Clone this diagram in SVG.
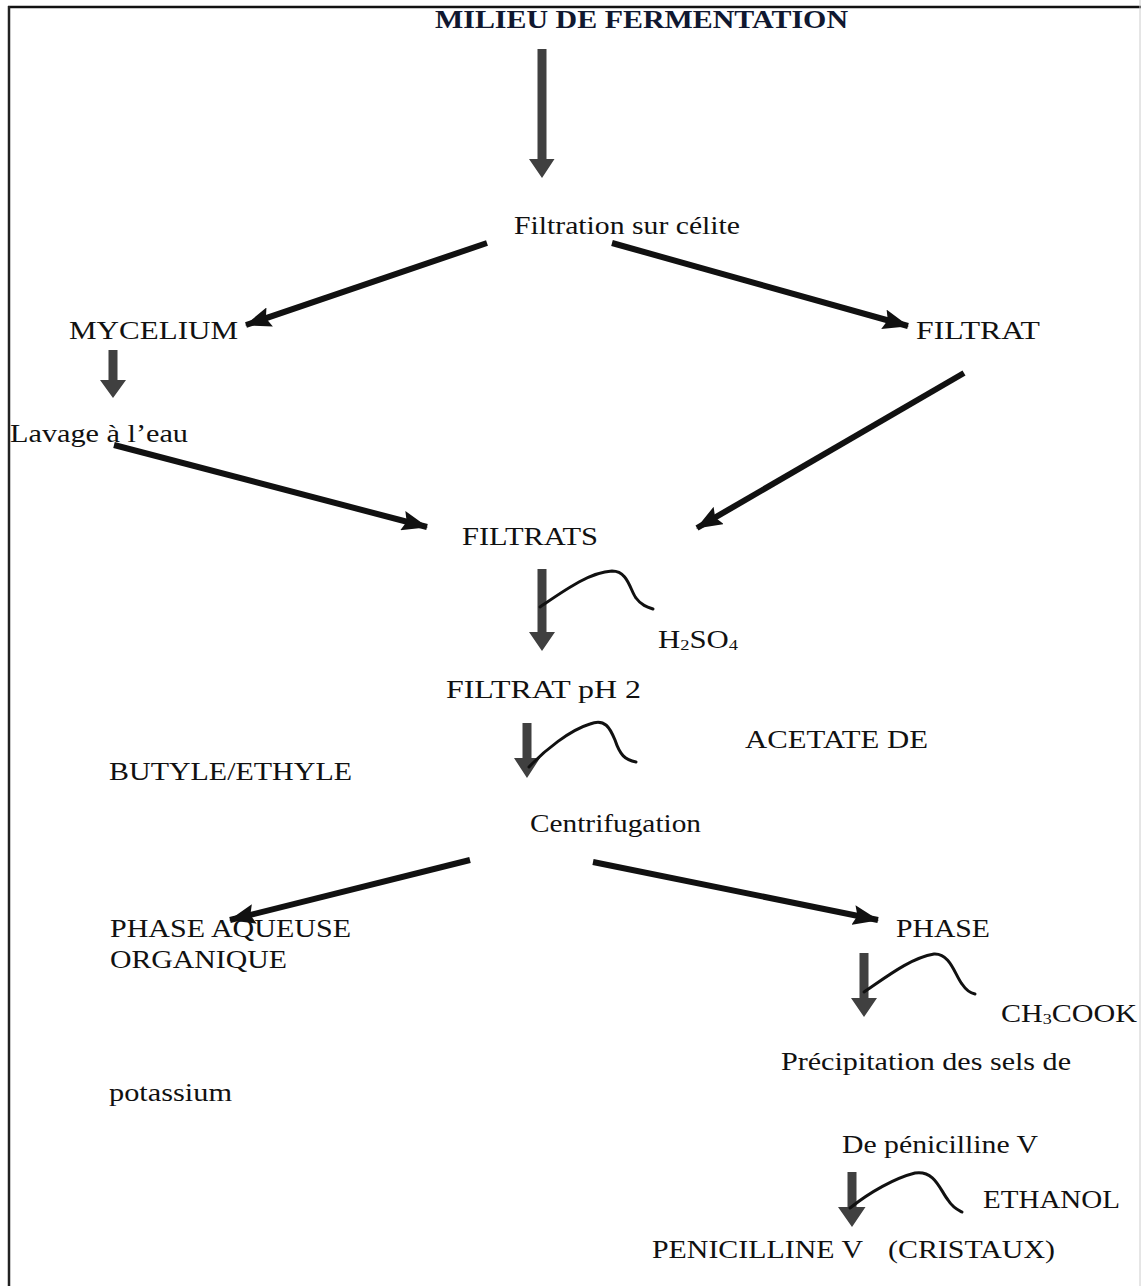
<svg xmlns="http://www.w3.org/2000/svg" width="1141" height="1286" viewBox="0 0 1141 1286">
<style>
text{font-family:"Liberation Serif","Times New Roman",serif;font-size:25px;fill:#111;}
.title{font-weight:bold;fill:#101830;}
.line{stroke:#111;stroke-width:6;fill:none;marker-end:url(#head);}
.block{fill:#404040;}
.curve{stroke:#111;stroke-width:3;fill:none;stroke-linecap:round;stroke-linejoin:round;}
.sub{font-size:15px;}
</style>
<defs>
<marker id="head" markerUnits="userSpaceOnUse" viewBox="0 0 26 20" refX="25" refY="10" markerWidth="26" markerHeight="20" orient="auto">
<path d="M0,0 L26,10 L0,20 L4,10 z" fill="#111"/>
</marker>
</defs>
<rect x="0" y="0" width="1141" height="1286" fill="#fff"/>
<g id="frame">
<line x1="8" y1="7" x2="1141" y2="7" stroke="#111" stroke-width="2.5"/>
<line x1="9" y1="6" x2="9" y2="1286" stroke="#222" stroke-width="2.5"/>
<line x1="1140" y1="0" x2="1140" y2="1286" stroke="#ccc" stroke-width="1"/>
</g>
<g id="connectors">
<line class="line" x1="487" y1="243" x2="246" y2="325"/>
<line class="line" x1="612" y1="243" x2="908" y2="326"/>
<line class="line" x1="114" y1="445" x2="427" y2="527"/>
<line class="line" x1="964" y1="373" x2="697" y2="528"/>
<line class="line" x1="470" y1="860" x2="230" y2="920"/>
<line class="line" x1="593" y1="862" x2="878" y2="920"/>
<path class="block" d="M537.5,49 h9 V159 h8 L542,178 L529,159 h8.5 z"/>
<path class="block" d="M108.5,350 h9 V380 h8.5 L113,398 L100,380 h8.5 z"/>
<path class="block" d="M537.5,569 h9 V632 h8.5 L542,651 L529,632 h8.5 z"/>
<path class="block" d="M522.5,723 h9 V758 h8.5 L527,778 L514,758 h8.5 z"/>
<path class="block" d="M859.5,953 h9 V998 h8.5 L864,1017 L851,998 h8.5 z"/>
<path class="block" d="M847.5,1172 h9 V1207 h9 L852,1227 L838,1207 h9.5 z"/>
<path class="curve" d="M540,607 C565,590 590,572 612,571 C628,571 630,590 636,598 C641,605 647,607 653,609"/>
<path class="curve" d="M529,767 C545,750 570,730 590,724 C605,718 610,728 615,740 C620,755 625,760 636,762"/>
<path class="curve" d="M864,992 C885,978 910,958 934,954 C950,953 955,975 962,984 C966,990 970,993 975,994"/>
<path class="curve" d="M850,1208 C870,1192 895,1178 915,1173 C935,1170 940,1190 948,1200 C953,1208 958,1210 962,1212"/>
</g>
<g id="n-milieu"><text class="title" x="435" y="28" textLength="413" lengthAdjust="spacingAndGlyphs">MILIEU DE FERMENTATION</text></g>
<g id="n-filtration"><text x="514" y="234" textLength="226" lengthAdjust="spacingAndGlyphs">Filtration sur célite</text></g>
<g id="n-mycelium"><text x="69" y="339" textLength="169" lengthAdjust="spacingAndGlyphs">MYCELIUM</text></g>
<g id="n-filtrat"><text x="916" y="339" textLength="124" lengthAdjust="spacingAndGlyphs">FILTRAT</text></g>
<g id="n-lavage"><text x="10" y="442" textLength="178" lengthAdjust="spacingAndGlyphs">Lavage à l’eau</text></g>
<g id="n-filtrats"><text x="462" y="545" textLength="136" lengthAdjust="spacingAndGlyphs">FILTRATS</text></g>
<g id="n-h2so4"><text x="658" y="648" textLength="80" lengthAdjust="spacingAndGlyphs">H<tspan class="sub" dy="2">2</tspan><tspan dy="-2">SO</tspan><tspan class="sub" dy="2">4</tspan></text></g>
<g id="n-filtrat-ph2"><text x="446" y="698" textLength="195" lengthAdjust="spacingAndGlyphs">FILTRAT  pH 2</text></g>
<g id="n-acetate"><text x="745" y="748" textLength="183" lengthAdjust="spacingAndGlyphs">ACETATE DE</text></g>
<g id="n-butyle"><text x="109" y="780" textLength="243" lengthAdjust="spacingAndGlyphs">BUTYLE/ETHYLE</text></g>
<g id="n-centrifugation"><text x="530" y="832" textLength="171" lengthAdjust="spacingAndGlyphs">Centrifugation</text></g>
<g id="n-phase-aqueuse"><text x="110" y="937" textLength="241" lengthAdjust="spacingAndGlyphs">PHASE AQUEUSE</text><text x="110" y="968" textLength="177" lengthAdjust="spacingAndGlyphs">ORGANIQUE</text></g>
<g id="n-potassium"><text x="109" y="1101" textLength="123" lengthAdjust="spacingAndGlyphs">potassium</text></g>
<g id="n-phase"><text x="896" y="937" textLength="94" lengthAdjust="spacingAndGlyphs">PHASE</text></g>
<g id="n-ch3cook"><text x="1001" y="1022" textLength="136" lengthAdjust="spacingAndGlyphs">CH<tspan class="sub" dy="2">3</tspan><tspan dy="-2">COOK</tspan></text></g>
<g id="n-precipitation"><text x="781" y="1070" textLength="290" lengthAdjust="spacingAndGlyphs">Précipitation des sels de</text></g>
<g id="n-penicilline-v"><text x="842" y="1153" textLength="196" lengthAdjust="spacingAndGlyphs">De pénicilline V</text></g>
<g id="n-ethanol"><text x="983" y="1208" textLength="137" lengthAdjust="spacingAndGlyphs">ETHANOL</text></g>
<g id="n-cristaux"><text y="1258"><tspan x="652" textLength="211" lengthAdjust="spacingAndGlyphs">PENICILLINE V</tspan><tspan x="888" textLength="167" lengthAdjust="spacingAndGlyphs">(CRISTAUX)</tspan></text></g>
</svg>
